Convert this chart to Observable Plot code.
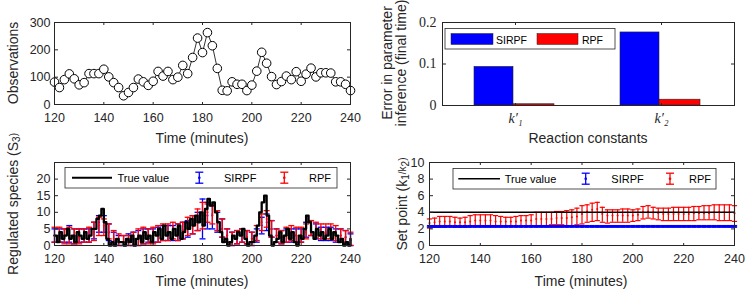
<!DOCTYPE html>
<html><head><meta charset="utf-8">
<script src="https://cdn.jsdelivr.net/npm/d3@7"></script>
<script src="https://cdn.jsdelivr.net/npm/@observablehq/plot@0.6"></script>
<style>
body{margin:0;background:#fff;}
#wrap{position:relative;width:748px;height:290px;overflow:hidden;background:#fff;}
</style></head><body><div id="wrap"></div>
<script>
// ---------------- DATA ----------------
const xTicks = [120,140,160,180,200,220,240];
const obsTicks = [0,100,200,300];
const s3Ticks = [0,5,10,15,20];
const spTicks = [0,2,4,6,8,10];
const errTicks = [0,0.1,0.2];

// 2-minute grid
const times2 = [120,122,124,126,128,130,132,134,136,138,
  140,142,144,146,148,150,152,154,156,158,
  160,162,164,166,168,170,172,174,176,178,
  180,182,184,186,188,190,192,194,196,198,
  200,202,204,206,208,210,212,214,216,218,
  220,222,224,226,228,230,232,234,236,238,240];

// Panel 1: observations
const obsValues = [82,62,91,112,94,72,80,113,113,113,
  129,101,80,62,32,44,62,93,83,70,
  85,121,104,121,91,100,143,113,172,243,
  190,263,215,132,52,50,83,74,74,51,
  71,122,191,151,102,73,84,104,91,120,
  85,111,133,101,116,116,115,83,83,74,51];

// Panel 2: parameter-inference error at final time
const constants = ["k1","k2"];
const sirpfErr = [0.093, 0.176];
const rpfErr = [0.003, 0.014];

// Panel 3: regulated species S3, 1-minute true value
const times1 = [120,121,122,123,124,125,126,127,128,129,
  130,131,132,133,134,135,136,137,138,139,
  140,141,142,143,144,145,146,147,148,149,
  150,151,152,153,154,155,156,157,158,159,
  160,161,162,163,164,165,166,167,168,169,
  170,171,172,173,174,175,176,177,178,179,
  180,181,182,183,184,185,186,187,188,189,
  190,191,192,193,194,195,196,197,198,199,
  200,201,202,203,204,205,206,207,208,209,
  210,211,212,213,214,215,216,217,218,219,
  220,221,222,223,224,225,226,227,228,229,
  230,231,232,233,234,235,236,237,238,239,240];
const trueS3 = [3,1,4,2,3,5,2,3,1,4,
  3,2,4,2,3,5,5,8,9,11,
  7,2,0,1,0,2,1,1,0,2,
  1,3,0,2,3,1,4,2,3,1,
  4,3,5,2,6,3,4,2,5,3,
  6,2,4,7,5,8,6,9,7,10,
  6,11,14,12,13,10,7,4,1,2,
  0,1,3,2,4,3,5,2,0,1,
  1,3,6,10,13,15,9,3,0,1,
  2,4,1,3,5,2,4,1,0,3,
  2,5,9,7,4,2,5,3,4,2,
  3,5,2,4,3,1,2,0,1,0,2];
const sirpfS3Mean = [3,3,3,3,3,3,3,3,4,7,
  7,4,1.5,1,1,1.5,2,2,3,3,
  3,3.5,4,4,4,4,4.5,5,6,7,
  8,9,9,7,5,3,2,2.5,3,2.5,
  2,3,6,7,5,3,2.5,3,3,3,
  3,4.5,5,4,3.5,3.5,3.5,3,3,2.5,1.5];
const sirpfS3Lo = [1,1,1,1,0.5,1,1,1,2,4,
  4,1.5,0,0,0,0,0,0,0.5,1,
  1,1,1.5,1.5,1.5,1.5,2,2.5,3.5,4.5,
  2,5,5,4,2.5,1,0,0.5,1,0.5,
  0,1,3.5,4.5,2.5,1,0.5,1,1,1,
  1,2.5,3,2,1.5,1.5,1.5,1,1,0.5,0];
const sirpfS3Hi = [5,5,5,6,5,5,5,5,7,9,
  9,6.5,4,3,3,3.5,4,4.5,5,5,
  5,5.5,6,6,6,6.5,7,7.5,9,10,
  14,13,12,10,8,5,4,4.5,5,4.5,
  4,5,8.5,9.5,7.5,5,4.5,5,5,5,
  5,7,7.5,6.5,5.5,5.5,5.5,5,5,4.5,3.5];
const rpfS3Mean = [3,3,3,3,3,2.5,3,3,4,6,
  6,4,2,1.5,1,1.5,2,2.5,3,3,
  3,3.5,4,4,4.5,4,4.5,5.5,6,7.5,
  9,10,9.5,7.5,5,3,2,2.5,3,2.5,
  2,3.5,7,8,5,3,2.5,3,3.5,3,
  3,4,5,4.5,4,4,4,3.5,3,2.5,2];
const rpfS3Lo = [1,1,0.5,0.5,0.5,0.5,1,1,1.5,3,
  3,2,0,0,0,0,0,0,0.5,0.5,
  0.5,1,1.5,1.5,2,1.5,2,3,3.5,4.5,
  5,7,6.5,4.5,2.5,1,0,0.5,1,0.5,
  0,1.5,4.5,5.5,2.5,1,0.5,1,1.5,1,
  1,2,3,2.5,2,2,2,1.5,1,0.5,0];
const rpfS3Hi = [5.5,5.5,5,5.5,5,5,5,5.5,7,8.5,
  8,6.5,4.5,3.5,3,3,4,5,5.5,5,
  5.5,6,6.5,6.5,7,6.5,7,8.5,9,11,
  13,12.5,12,10.5,8,5,4,4.5,5,4.5,
  4,6,9.5,10.5,7.5,5,4.5,5.5,6,5.5,
  5.5,6.5,7.5,7,6.5,6.5,6.5,6,5,4.5,4];

// Panel 4: set point k1/k2
const trueSetPoint = [4];
const sirpfSPMean = [2.3,2.3,2.3,2.3,2.3,2.3,2.3,2.3,2.3,2.3,
  2.3,2.3,2.3,2.3,2.3,2.3,2.3,2.3,2.3,2.3,
  2.3,2.3,2.3,2.3,2.3,2.3,2.3,2.3,2.3,2.3,
  2.3,2.3,2.3,2.3,2.3,2.3,2.3,2.3,2.3,2.3,
  2.3,2.3,2.3,2.3,2.3,2.3,2.3,2.3,2.3,2.3,
  2.3,2.3,2.3,2.3,2.3,2.3,2.3,2.3,2.3,2.3,2.3];
const sirpfSPLo = sirpfSPMean.map(() => 2.22);
const sirpfSPHi = sirpfSPMean.map(() => 2.38);
const rpfSPMean = [2.7,2.8,2.9,2.9,2.9,2.8,2.8,2.8,2.9,3.0,
  3.0,3.0,3.0,2.9,2.9,2.9,2.9,2.9,3.0,3.0,
  3.0,3.2,3.2,3.2,3.2,3.3,3.3,3.3,3.4,3.5,
  3.8,4.1,4.3,4.4,3.8,3.6,3.6,3.6,3.6,3.6,
  3.6,3.7,4.0,4.1,4.0,3.9,3.8,3.8,3.8,3.8,
  3.8,3.8,3.9,3.9,3.9,3.9,4.0,4.0,4.0,4.0,3.9];
const rpfSPLo = [2.1,2.2,2.2,2.2,2.3,2.2,2.2,2.2,2.3,2.3,
  2.3,2.3,2.3,2.3,2.3,2.3,2.3,2.3,2.3,2.3,
  2.4,2.4,2.4,2.4,2.5,2.5,2.5,2.4,2.4,2.5,
  2.6,2.8,2.9,3.0,2.8,2.7,2.8,2.8,2.8,2.8,
  2.9,3.0,3.2,3.3,3.2,3.1,3.0,3.0,3.0,3.0,
  3.0,3.0,3.0,3.1,3.1,3.1,3.1,3.0,3.0,3.0,2.9];
const rpfSPHi = [3.2,3.3,3.5,3.5,3.5,3.4,3.3,3.4,3.6,3.7,
  3.7,3.7,3.7,3.6,3.5,3.4,3.4,3.5,3.6,3.6,
  3.7,4.0,4.0,4.0,4.0,4.1,4.1,4.2,4.3,4.5,
  4.8,4.9,5.1,5.2,4.6,4.3,4.3,4.3,4.4,4.4,
  4.3,4.4,4.7,4.8,4.6,4.5,4.5,4.5,4.6,4.6,
  4.6,4.6,4.7,4.7,4.8,4.8,4.9,4.9,4.9,4.9,4.8];

// ---------------- HELPERS ----------------
const INK = "#262626";
const SANS = "'Liberation Sans', Arial, Helvetica, sans-serif";
const SERIF = "'Liberation Serif', 'Times New Roman', serif";
const BLUE = "#0000ff", RED = "#ff0000";
const wrap = document.getElementById("wrap");

const capSym = {draw(ctx, size){ const w = Math.sqrt(size/Math.PI); ctx.moveTo(-w,0); ctx.lineTo(w,0); }};

function frameTicks(xt, yt, w, h, len){
  const none = () => "";
  return [
    Plot.axisX(xt, {anchor:"top", dy:h, tickSize:len, tickFormat:none, label:null}),
    Plot.axisX(xt, {anchor:"bottom", dy:-h, tickSize:len, tickFormat:none, label:null}),
    Plot.axisY(yt, {anchor:"right", dx:-w, tickSize:len, tickFormat:none, label:null}),
    Plot.axisY(yt, {anchor:"left", dx:w, tickSize:len, tickFormat:none, label:null})
  ];
}
function errorBars(data, color, capR, sw){
  return [
    Plot.ruleX(data, {x:"t", y1:"lo", y2:"hi", stroke:color, strokeWidth:sw}),
    Plot.dot(data, {x:"t", y:"lo", symbol:capSym, r:capR, fill:"none", stroke:color, strokeWidth:sw}),
    Plot.dot(data, {x:"t", y:"hi", symbol:capSym, r:capR, fill:"none", stroke:color, strokeWidth:sw}),
    Plot.dot(data, {x:"t", y:"m", r:1, fill:color, stroke:null})
  ];
}
function place(el, left, top){
  el.style.position = "absolute"; el.style.left = left + "px"; el.style.top = top + "px";
  wrap.appendChild(el);
}
const baseStyle = {fontFamily:SANS, fontSize:"12.5px", color:INK, background:"transparent", overflow:"visible"};

// ---------------- PANEL 1 ----------------
{
  const W=374,H=145,mL=54,mR=24,mT=22,mB=41;
  const obs = times2.map((t,i)=>({t, v:obsValues[i]}));
  const p = Plot.plot({
    width:W, height:H, marginLeft:mL, marginRight:mR, marginTop:mT, marginBottom:mB,
    style:baseStyle,
    x:{domain:[120,240]}, y:{domain:[0,300]},
    marks:[
      ...frameTicks(xTicks, obsTicks, W-mL-mR, H-mT-mB, 3),
      Plot.axisX(xTicks, {tickSize:0, tickPadding:9, label:null, fontSize:12.5}),
      Plot.axisY(obsTicks, {tickSize:0, tickPadding:4, label:null, fontSize:12.5}),
      Plot.line(obs, {x:"t", y:"v", stroke:"black", strokeWidth:0.8}),
      Plot.dot(obs, {x:"t", y:"v", r:4.3, fill:"white", stroke:"black", strokeWidth:1}),
      Plot.frame({stroke:INK})
    ]
  });
  place(p, 0, 0);
}

// ---------------- PANEL 2 ----------------
{
  const W=374,H=145,mL=68,mR=14,mT=22,mB=40;
  const bars = constants.map((k,i)=>({k, s:sirpfErr[i], r:rpfErr[i]}));
  const kLabel = {k1:"k′₁", k2:"k′₂"};
  const p = Plot.plot({
    width:W, height:H, marginLeft:mL, marginRight:mR, marginTop:mT, marginBottom:mB,
    style:baseStyle,
    x:{type:"band", domain:constants, padding:0}, y:{domain:[0,0.2]},
    marks:[
      Plot.barY(bars, {x:"k", y:"s", fill:BLUE, stroke:INK, strokeWidth:0.6, insetLeft:32, insetRight:75}),
      Plot.barY(bars, {x:"k", y:"r", fill:RED, stroke:INK, strokeWidth:0.6, insetLeft:71, insetRight:34}),
      ...frameTicks(constants, errTicks, W-mL-mR, H-mT-mB, 3),
      Plot.axisX(constants, {tickSize:0, tickPadding:8, label:null, fontFamily:SERIF, fontSize:14, fontStyle:"italic", tickFormat:d=>kLabel[d]}),
      Plot.axisY(errTicks, {tickSize:0, tickPadding:6, label:null, fontFamily:SERIF, fontSize:14, tickFormat:d=>String(d)}),
      Plot.frame({stroke:INK})
    ]
  });
  place(p, 374, 0);
}

// ---------------- PANEL 3 ----------------
{
  const W=374,H=145,mL=54,mR=24,mT=17,mB=45;
  const tv = times1.map((t,i)=>({t, v:trueS3[i]}));
  const sb = times2.map((t,i)=>({t, m:sirpfS3Mean[i], lo:sirpfS3Lo[i], hi:sirpfS3Hi[i]}));
  const rb = times2.map((t,i)=>({t, m:rpfS3Mean[i], lo:rpfS3Lo[i], hi:rpfS3Hi[i]}));
  const p = Plot.plot({
    width:W, height:H, marginLeft:mL, marginRight:mR, marginTop:mT, marginBottom:mB,
    style:baseStyle,
    x:{domain:[120,240]}, y:{domain:[0,25]},
    marks:[
      ...errorBars(sb, BLUE, 3, 1.3),
      ...errorBars(rb, RED, 3, 1.3),
      Plot.line(tv, {x:"t", y:"v", curve:"step-after", stroke:"black", strokeWidth:2.3}),
      ...frameTicks(xTicks, s3Ticks, W-mL-mR, H-mT-mB, 3),
      Plot.axisX(xTicks, {tickSize:0, tickPadding:9, label:null, fontSize:12.5}),
      Plot.axisY(s3Ticks, {tickSize:0, tickPadding:4, label:null, fontSize:12.5}),
      Plot.frame({stroke:INK})
    ]
  });
  place(p, 0, 145);
}

// ---------------- PANEL 4 ----------------
{
  const W=374,H=145,mL=55,mR=14,mT=17,mB=45;
  const sb = times2.map((t,i)=>({t, m:sirpfSPMean[i], lo:sirpfSPLo[i], hi:sirpfSPHi[i]}));
  const rb = times2.map((t,i)=>({t, m:rpfSPMean[i], lo:rpfSPLo[i], hi:rpfSPHi[i]}));
  const p = Plot.plot({
    width:W, height:H, marginLeft:mL, marginRight:mR, marginTop:mT, marginBottom:mB,
    style:baseStyle,
    x:{domain:[120,240]}, y:{domain:[0,10]},
    marks:[
      ...errorBars(rb, RED, 2.6, 1.2),
      Plot.ruleY(trueSetPoint, {stroke:"black", strokeWidth:1.5}),
      ...errorBars(sb, BLUE, 2.6, 1.6),
      Plot.line(sb, {x:"t", y:"m", stroke:BLUE, strokeWidth:1.6}),
      ...frameTicks(xTicks, spTicks, W-mL-mR, H-mT-mB, 3),
      Plot.axisX(xTicks, {tickSize:0, tickPadding:9, label:null, fontSize:12.5}),
      Plot.axisY(spTicks, {tickSize:0, tickPadding:5, label:null, fontSize:12.5}),
      Plot.frame({stroke:INK})
    ]
  });
  place(p, 374, 145);
}

// ---------------- LABELS & LEGENDS (overlay) ----------------
const ov = d3.select(wrap).append("svg")
  .attr("width",748).attr("height",290)
  .style("position","absolute").style("left","0px").style("top","0px")
  .style("font-family",SANS).attr("fill",INK);

function label(x, y, parts, rotate){
  const t = ov.append("text")
    .attr("transform", `translate(${x},${y})` + (rotate ? " rotate(-90)" : ""))
    .attr("text-anchor","middle").attr("dominant-baseline","central")
    .attr("font-size",14).attr("fill",INK);
  for (const p of parts){
    if (typeof p === "string") t.append("tspan").text(p);
    else t.append("tspan").attr("font-size",10).attr("dy", p.dy).text(p.s);
  }
  return t;
}
label(13, 63, ["Observations"], true);
label(202, 138, ["Time (minutes)"]);
label(387, 63, ["Error in parameter"], true);
label(401, 63, ["inference (final time)"], true);
label(588, 138, ["Reaction constants"]);
label(13, 204, ["Regulated species (S", {s:"3", dy:3}, {s:")", dy:-3}], true);
label(202, 281, ["Time (minutes)"]);
label(402, 204, ["Set point (k", {s:"1", dy:3}, {s:"/k", dy:-3}, {s:"2", dy:3}, {s:")", dy:-3}], true);
label(581, 281, ["Time (minutes)"]);

function legText(x, y, s, size){
  ov.append("text").attr("x",x).attr("y",y).attr("dominant-baseline","central")
    .attr("font-size",size).attr("fill","#000").text(s);
}
function legBox(x, y, w, h){
  ov.append("rect").attr("x",x).attr("y",y).attr("width",w).attr("height",h)
    .attr("fill","white").attr("stroke",INK).attr("stroke-width",0.8);
}
function legErr(cx, cy, color){
  const g = ov.append("g").attr("stroke",color).attr("stroke-width",1.3);
  g.append("line").attr("x1",cx).attr("x2",cx).attr("y1",cy-5.5).attr("y2",cy+5.5);
  g.append("line").attr("x1",cx-4).attr("x2",cx+4).attr("y1",cy-5.5).attr("y2",cy-5.5);
  g.append("line").attr("x1",cx-4).attr("x2",cx+4).attr("y1",cy+5.5).attr("y2",cy+5.5);
  ov.append("circle").attr("cx",cx).attr("cy",cy).attr("r",1.3).attr("fill",color);
}
// Panel 2 legend
legBox(445, 28.5, 170, 20.5);
ov.append("rect").attr("x",451).attr("y",33.5).attr("width",42).attr("height",11).attr("fill",BLUE).attr("stroke",INK).attr("stroke-width",0.5);
ov.append("rect").attr("x",537).attr("y",33.5).attr("width",41).attr("height",11).attr("fill",RED).attr("stroke",INK).attr("stroke-width",0.5);
legText(496, 39.5, "SIRPF", 10.5);
legText(582, 39.5, "RPF", 10.5);
// Panel 3 legend
legBox(65, 167.5, 272, 20.5);
ov.append("line").attr("x1",72).attr("x2",112).attr("y1",177.7).attr("y2",177.7).attr("stroke","black").attr("stroke-width",2);
legText(117.5, 178, "True value", 11);
legErr(199.3, 177.7, BLUE);
legText(224, 178, "SIRPF", 11);
legErr(284.3, 177.7, RED);
legText(309, 178, "RPF", 11);
// Panel 4 legend
legBox(453, 168.5, 263, 20.5);
ov.append("line").attr("x1",458.3).attr("x2",500).attr("y1",178.7).attr("y2",178.7).attr("stroke","black").attr("stroke-width",1.5);
legText(504.7, 179, "True value", 11);
legErr(585.7, 178.7, BLUE);
legText(611.3, 179, "SIRPF", 11);
legErr(670, 178.7, RED);
legText(689, 179, "RPF", 11);
</script>
</body></html>
